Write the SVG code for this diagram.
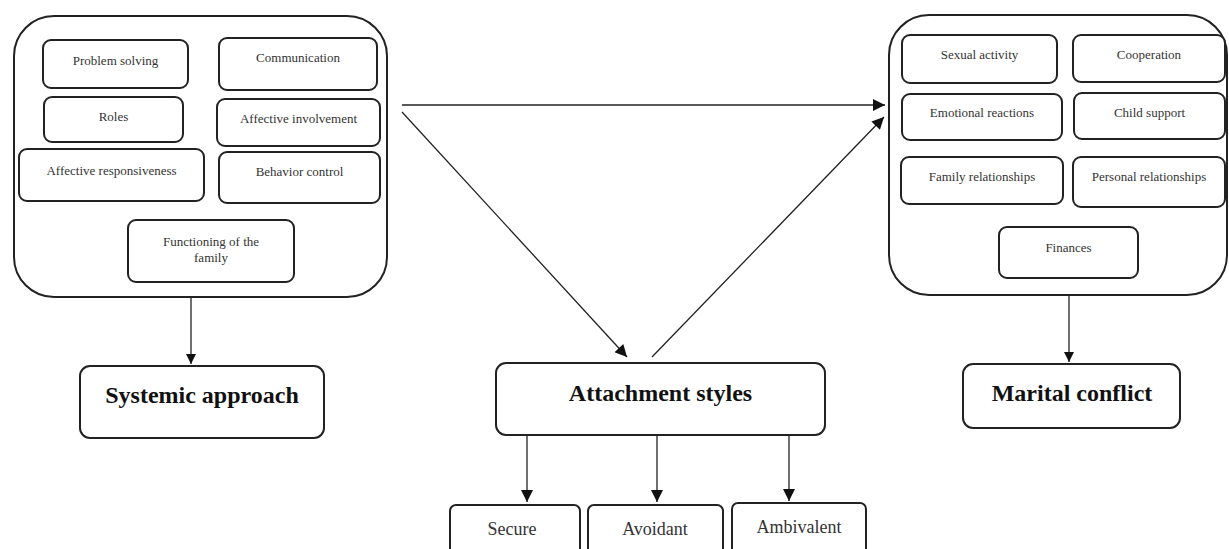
<svg xmlns="http://www.w3.org/2000/svg" width="1229" height="549" viewBox="0 0 1229 549">
<style>
.outer{fill:#fff;stroke:#222;stroke-width:2}
.inner{fill:#fff;stroke:#222;stroke-width:2}
.big{fill:#fff;stroke:#222;stroke-width:2}
.small{font-family:"Liberation Serif",serif;font-size:13px;fill:#333;text-anchor:middle}
.title{font-family:"Liberation Serif",serif;font-size:24px;font-weight:bold;fill:#111;text-anchor:middle}
.sub{font-family:"Liberation Serif",serif;font-size:18px;fill:#333;text-anchor:middle}
.conn line{stroke:#222;stroke-width:1.3;fill:none}
</style>
<defs>
<marker id="ah" viewBox="0 0 10 10" refX="10" refY="5" markerWidth="10" markerHeight="10" markerUnits="userSpaceOnUse" orient="auto">
<path d="M0,0 L10,5 L0,10 z" fill="#111"/>
</marker>
<marker id="ah2" viewBox="0 0 10 10" refX="10" refY="5" markerWidth="14" markerHeight="12" markerUnits="userSpaceOnUse" orient="auto">
<path d="M0,0 L10,5 L0,10 z" fill="#111"/>
</marker>
</defs>
<rect width="1229" height="549" fill="#fff"/>

<g id="family-functioning">
<rect class="outer" x="14" y="16" width="373" height="281" rx="40" ry="40"/>
<g id="problem-solving"><rect class="inner" x="43" y="40" width="145" height="48" rx="8"/><text class="small" x="115.5" y="65">Problem solving</text></g>
<g id="communication"><rect class="inner" x="219" y="38" width="158" height="52" rx="8"/><text class="small" x="298" y="62">Communication</text></g>
<g id="roles"><rect class="inner" x="44" y="97" width="139" height="45" rx="8"/><text class="small" x="113.5" y="121">Roles</text></g>
<g id="affective-involvement"><rect class="inner" x="217" y="99" width="163" height="47" rx="8"/><text class="small" x="298.5" y="123">Affective involvement</text></g>
<g id="affective-responsiveness"><rect class="inner" x="19" y="149" width="185" height="52" rx="8"/><text class="small" x="111.5" y="175">Affective responsiveness</text></g>
<g id="behavior-control"><rect class="inner" x="219" y="152" width="161" height="51" rx="8"/><text class="small" x="299.5" y="176">Behavior control</text></g>
<g id="functioning"><rect class="inner" x="128" y="220" width="166" height="62" rx="8"/><text class="small" x="211" y="246">Functioning of the</text><text class="small" x="211" y="262">family</text></g>
</g>

<g id="marital-areas">
<rect class="outer" x="889" y="15" width="338" height="280" rx="40" ry="40"/>
<g id="sexual-activity"><rect class="inner" x="902" y="35" width="155" height="48" rx="8"/><text class="small" x="979.5" y="59">Sexual activity</text></g>
<g id="cooperation"><rect class="inner" x="1073" y="35" width="152" height="47" rx="8"/><text class="small" x="1149" y="59">Cooperation</text></g>
<g id="emotional-reactions"><rect class="inner" x="902" y="94" width="160" height="46" rx="8"/><text class="small" x="982" y="117">Emotional reactions</text></g>
<g id="child-support"><rect class="inner" x="1074" y="93" width="151" height="46" rx="8"/><text class="small" x="1149.5" y="117">Child support</text></g>
<g id="family-relationships"><rect class="inner" x="901" y="157" width="162" height="47" rx="8"/><text class="small" x="982" y="181">Family relationships</text></g>
<g id="personal-relationships"><rect class="inner" x="1073" y="157" width="152" height="50" rx="8"/><text class="small" x="1149" y="181">Personal relationships</text></g>
<g id="finances"><rect class="inner" x="999" y="227" width="139" height="51" rx="8"/><text class="small" x="1068.5" y="252">Finances</text></g>
</g>

<g id="systemic-approach"><rect class="big" x="80" y="366" width="244" height="72" rx="10"/><text class="title" x="202" y="403">Systemic approach</text></g>
<g id="marital-conflict"><rect class="big" x="963" y="364" width="217" height="64" rx="10"/><text class="title" x="1072" y="401">Marital conflict</text></g>
<g id="attachment-styles"><rect class="big" x="496" y="363" width="329" height="72" rx="10"/><text class="title" x="660.5" y="401">Attachment styles</text></g>
<g id="secure"><rect class="big" x="450" y="505" width="130" height="60" rx="6"/><text class="sub" x="512" y="535">Secure</text></g>
<g id="avoidant"><rect class="big" x="588" y="505" width="135" height="60" rx="6"/><text class="sub" x="655" y="535">Avoidant</text></g>
<g id="ambivalent"><rect class="big" x="732" y="503" width="134" height="62" rx="6"/><text class="sub" x="799" y="533">Ambivalent</text></g>

<g id="connectors" class="conn">
<line x1="191" y1="297" x2="191" y2="364" marker-end="url(#ah)"/>
<line x1="1069" y1="295" x2="1069" y2="362" marker-end="url(#ah)"/>
<line x1="402" y1="105" x2="885" y2="105" marker-end="url(#ah2)"/>
<line x1="402" y1="112" x2="627" y2="357" marker-end="url(#ah2)"/>
<line x1="652" y1="357" x2="884" y2="117" marker-end="url(#ah2)"/>
<line x1="527" y1="435" x2="527" y2="502" marker-end="url(#ah2)"/>
<line x1="657" y1="435" x2="657" y2="502" marker-end="url(#ah2)"/>
<line x1="789" y1="435" x2="789" y2="501" marker-end="url(#ah2)"/>
</g>
</svg>
